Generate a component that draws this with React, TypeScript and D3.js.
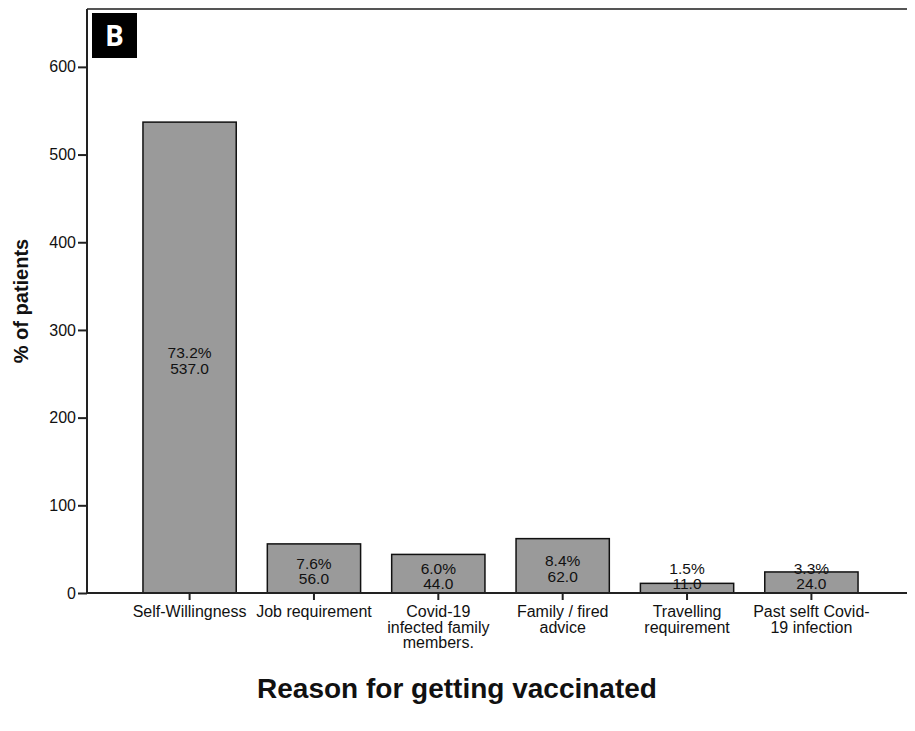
import * as d3 from "d3";
import { useEffect, useRef } from "react";

const categories = [
  ["Self-Willingness"],
  ["Job requirement"],
  ["Covid-19", "infected family", "members."],
  ["Family / fired", "advice"],
  ["Travelling", "requirement"],
  ["Past selft Covid-", "19 infection"],
];
const counts = [537.0, 56.0, 44.0, 62.0, 11.0, 24.0];
const percents = ["73.2%", "7.6%", "6.0%", "8.4%", "1.5%", "3.3%"];
const yTicks = [0, 100, 200, 300, 400, 500, 600];

export default function App() {
  const ref = useRef<SVGSVGElement | null>(null);

  useEffect(() => {
    const svg = d3.select(ref.current);
    svg.selectAll("*").remove();

    const width = 915;
    const height = 731;
    const left = 87;
    const right = 914;
    const top = 9;
    const bottom = 593;
    const font = "Arial, 'Liberation Sans', sans-serif";

    svg.attr("width", width).attr("height", height);

    const keys = categories.map((c) => c.join(" "));
    const x = d3
      .scaleBand<string>()
      .domain(keys)
      .range([left, right])
      .paddingInner(0.25)
      .paddingOuter(0.45);
    const y = d3.scaleLinear().domain([0, 666]).range([bottom, top]);

    // frame
    svg
      .append("line")
      .attr("x1", left)
      .attr("x2", right)
      .attr("y1", top)
      .attr("y2", top)
      .attr("stroke", "#555")
      .attr("stroke-width", 2);
    svg
      .append("line")
      .attr("x1", right)
      .attr("x2", right)
      .attr("y1", top)
      .attr("y2", bottom)
      .attr("stroke", "#ddd")
      .attr("stroke-width", 1);

    // bars
    const data = keys.map((k, i) => ({ key: k, value: counts[i], pct: percents[i] }));
    svg
      .selectAll("rect.bar")
      .data(data)
      .enter()
      .append("rect")
      .attr("class", "bar")
      .attr("x", (d) => x(d.key)!)
      .attr("y", (d) => y(d.value))
      .attr("width", x.bandwidth())
      .attr("height", (d) => y(0) - y(d.value))
      .attr("fill", "#9a9a9a")
      .attr("stroke", "#111")
      .attr("stroke-width", 1.5);

    // bar labels: centred in the bar, kept above the axis for short bars
    const base2 = (v: number) => Math.min((y(v) + y(0)) / 2 + 16, bottom - 4);
    const labels = svg
      .selectAll("text.val")
      .data(data)
      .enter()
      .append("text")
      .attr("class", "val")
      .attr("text-anchor", "middle")
      .attr("font-family", font)
      .attr("font-size", "15.5px")
      .attr("fill", "#111");
    labels
      .append("tspan")
      .attr("x", (d) => x(d.key)! + x.bandwidth() / 2)
      .attr("y", (d) => base2(d.value) - 15.5)
      .text((d) => d.pct);
    labels
      .append("tspan")
      .attr("x", (d) => x(d.key)! + x.bandwidth() / 2)
      .attr("y", (d) => base2(d.value))
      .text((d) => d.value.toFixed(1));

    // y axis
    const yAxis = svg
      .append("g")
      .attr("transform", `translate(${left},0)`)
      .call(d3.axisLeft(y).tickValues(yTicks).tickSize(9).tickPadding(2));
    yAxis.select(".domain").attr("d", `M0,${top}V${bottom}`).attr("stroke", "#222").attr("stroke-width", 2);
    yAxis.selectAll(".tick line").attr("stroke", "#222").attr("stroke-width", 2);
    yAxis
      .selectAll(".tick text")
      .attr("font-family", font)
      .attr("font-size", "16px")
      .attr("fill", "#111");

    // x axis
    const xAxis = svg
      .append("g")
      .attr("transform", `translate(0,${bottom})`)
      .call(d3.axisBottom(x).tickSize(7).tickFormat(() => ""));
    xAxis.select(".domain").attr("d", `M${left},0H${right}`).attr("stroke", "#222").attr("stroke-width", 2);
    xAxis.selectAll(".tick line").attr("stroke", "#222").attr("stroke-width", 2);
    xAxis.selectAll(".tick text").remove();

    const catText = svg
      .selectAll("text.cat")
      .data(categories)
      .enter()
      .append("text")
      .attr("class", "cat")
      .attr("text-anchor", "middle")
      .attr("font-family", font)
      .attr("font-size", "16px")
      .attr("fill", "#111");
    catText
      .selectAll("tspan")
      .data((d) => d.map((line, j) => ({ line, j, key: d.join(" ") })))
      .enter()
      .append("tspan")
      .attr("x", (d) => x(d.key)! + x.bandwidth() / 2)
      .attr("y", (d) => bottom + 24 + d.j * 15.5)
      .text((d) => d.line);

    // axis titles
    svg
      .append("text")
      .attr("transform", `translate(28,${(top + bottom) / 2}) rotate(-90)`)
      .attr("text-anchor", "middle")
      .attr("font-family", font)
      .attr("font-size", "20px")
      .attr("font-weight", "bold")
      .attr("fill", "#111")
      .text("% of patients");

    svg
      .append("text")
      .attr("x", 457)
      .attr("y", 698)
      .attr("text-anchor", "middle")
      .attr("font-family", font)
      .attr("font-size", "28px")
      .attr("font-weight", "bold")
      .attr("fill", "#111")
      .text("Reason for getting vaccinated");

    // panel letter
    svg
      .append("rect")
      .attr("x", 92)
      .attr("y", 13)
      .attr("width", 45)
      .attr("height", 45)
      .attr("fill", "#000");
    svg
      .append("text")
      .attr("x", 114.5)
      .attr("y", 46)
      .attr("text-anchor", "middle")
      .attr("font-family", "'Open Sans', Arial, sans-serif")
      .attr("font-size", "28px")
      .attr("font-weight", "bold")
      .attr("fill", "#fff")
      .text("B");
  }, []);

  return (
    <div style={{ margin: -8, width: 915, height: 731, background: "#fff" }}>
      <svg ref={ref}></svg>
    </div>
  );
}
